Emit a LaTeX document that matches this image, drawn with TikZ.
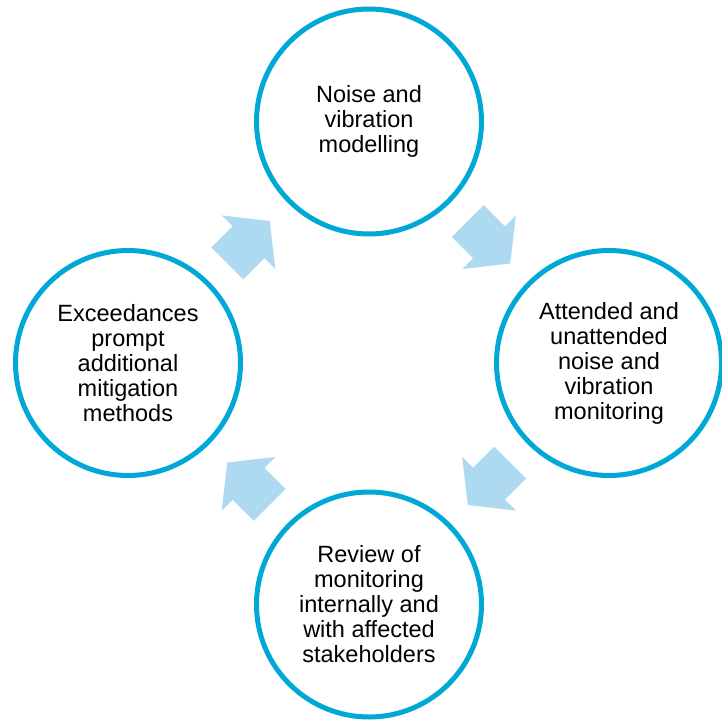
\documentclass[tikz,border=0pt]{standalone}
\usepackage{fontspec}
\setmainfont{Liberation Sans}
\usetikzlibrary{calc}

\definecolor{ringblue}{RGB}{0,168,214}
\definecolor{arrowblue}{RGB}{173,218,241}

\tikzset{
    stage/.style={circle, draw=ringblue, line width=5pt, fill=white,
        minimum size=225pt, inner sep=0pt, align=center,
        font=\fontsize{23.5}{25}\selectfont},
    pics/cyclearrow/.style={code={
        \fill[arrowblue] (-30,-22.5) -- (0,-22.5) -- (0,-38) -- (30,0)
            -- (0,38) -- (0,22.5) -- (-30,22.5) -- cycle;
    }}
}

\begin{document}
\begin{tikzpicture}[x=1pt, y=-1pt]
    \useasboundingbox (0,0) rectangle (722,722);

    % Stages of the cycle
    \node[stage] (model) at (369,121.5) {Noise and\\vibration\\modelling};
    \node[stage] (monitor) at (609,363) {Attended and\\unattended\\noise and\\vibration\\monitoring};
    \node[stage] (review) at (369,604.5) {Review of\\monitoring\\internally and\\with affected\\stakeholders};
    \node[stage] (mitigate) at (128,363) {Exceedances\\prompt\\additional\\mitigation\\methods};

    % Block arrows between stages
    \pic[rotate=-45] at ($(model)!0.5!(monitor)$) {cyclearrow};
    \pic[rotate=-135] at ($(monitor)!0.5!(review)$) {cyclearrow};
    \pic[rotate=135] at ($(review)!0.5!(mitigate)$) {cyclearrow};
    \pic[rotate=45] at ($(mitigate)!0.5!(model)$) {cyclearrow};
\end{tikzpicture}
\end{document}
